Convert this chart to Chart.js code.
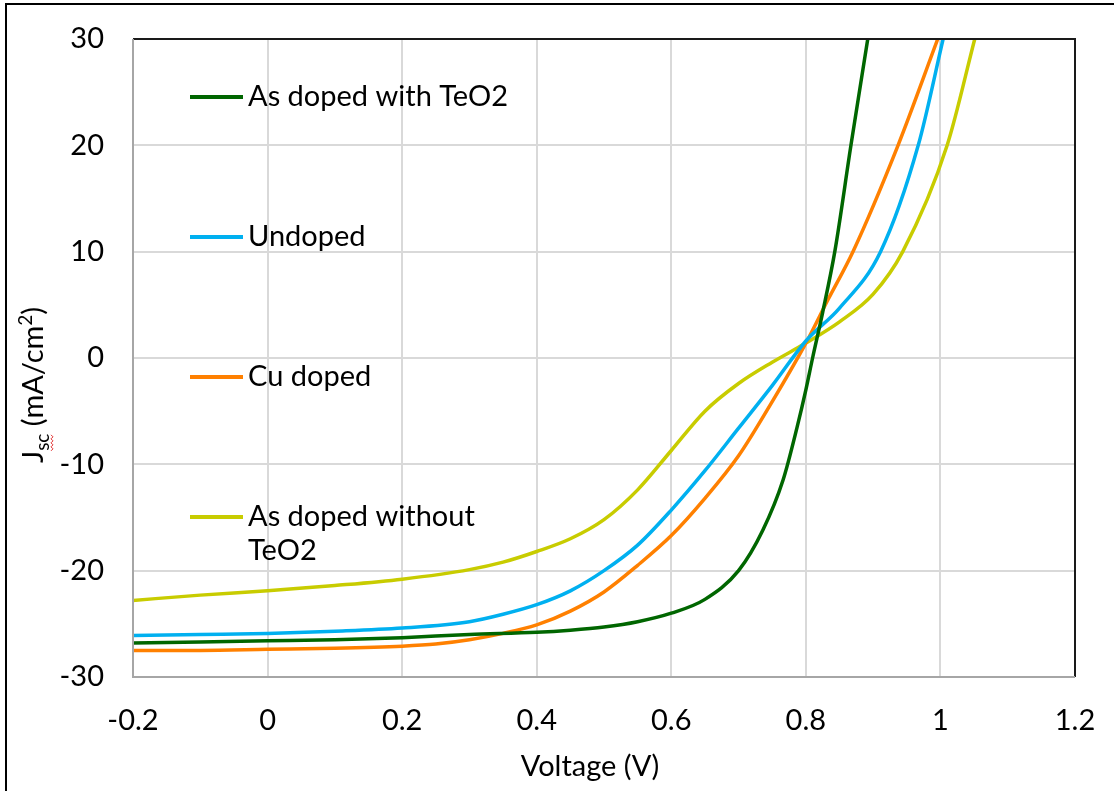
<!DOCTYPE html>
<html>
<head>
<meta charset="utf-8">
<title>J-V curves</title>
<script src="https://cdn.jsdelivr.net/npm/chart.js@4/dist/chart.umd.min.js"></script>
<style>
  html, body { margin: 0; padding: 0; background: #fff; }
  #wrap { width: 1114px; height: 791px; }
</style>
</head>
<body>
<div id="wrap"><canvas id="Grafico" width="1114" height="791"></canvas></div>
<script>
'use strict';
// voltage (V) / current density (mA/cm2) for each sample
const voltWithTeO2 = [-0.2,-0.1,0,0.1,0.2,0.3,0.4,0.45,0.5,0.55,0.6,0.65,0.7,0.736,0.766,0.787,0.8,0.81,0.825,0.843,0.867,0.892];
const jscWithTeO2  = [-26.8,-26.7,-26.6,-26.5,-26.3,-26.0,-25.8,-25.6,-25.3,-24.8,-24.0,-22.7,-20.0,-16.2,-11.5,-6.5,-3.0,0,4.3,10,20,30];

const voltUndoped = [-0.2,-0.1,0,0.1,0.2,0.3,0.35,0.4,0.45,0.5,0.55,0.6,0.65,0.7,0.75,0.8,0.85,0.911,0.967,1.004];
const jscUndoped  = [-26.1,-26.0,-25.9,-25.7,-25.4,-24.8,-24.1,-23.2,-21.9,-20.0,-17.6,-14.3,-10.6,-6.6,-2.6,1.6,4.7,10,20,30];

const voltCu = [-0.2,-0.1,0,0.1,0.2,0.25,0.3,0.35,0.4,0.45,0.5,0.55,0.6,0.65,0.7,0.75,0.8,0.833,0.87,0.937,0.996];
const jscCu  = [-27.5,-27.5,-27.4,-27.3,-27.1,-26.9,-26.5,-25.9,-25.1,-23.8,-22.0,-19.5,-16.7,-13.2,-9.2,-4.1,1.4,5.5,10,20,30];

const voltNoTeO2 = [-0.2,-0.1,0,0.1,0.2,0.3,0.35,0.4,0.45,0.5,0.55,0.6,0.65,0.7,0.75,0.8,0.85,0.9,0.944,1.01,1.051];
const jscNoTeO2  = [-22.8,-22.3,-21.9,-21.4,-20.8,-19.9,-19.2,-18.2,-17.0,-15.2,-12.4,-8.7,-5.0,-2.4,-0.4,1.4,3.4,6.0,10,20,30];

const seriesNames  = ['As doped with TeO2', 'Undoped', 'Cu doped', 'As doped without\nTeO2'];
const seriesColors = ['#006600', '#00b0f0', '#ff8000', '#c8cc00'];

const xTicks = { min: -0.2, max: 1.2, step: 0.2 };
const yTicks = { min: -30, max: 30, step: 10 };

const FONT = 'Lato, Carlito, Calibri, sans-serif';

function pares(xs, ys) {
  return xs.map((v, i) => ({ x: v, y: ys[i] }));
}

const dados = [
  pares(voltWithTeO2, jscWithTeO2),
  pares(voltUndoped, jscUndoped),
  pares(voltCu, jscCu),
  pares(voltNoTeO2, jscNoTeO2)
];

// legend, titles and frame drawn by hand (Excel-like layout)
const extras = {
  id: 'extras',
  afterDraw(chart) {
    const ctx = chart.ctx;
    const a = chart.chartArea;
    ctx.save();

    // plot frame: top/right dark, left/bottom grey
    ctx.lineWidth = 2;
    ctx.strokeStyle = '#1a1a1a';
    ctx.beginPath();
    ctx.moveTo(a.left, a.top); ctx.lineTo(a.right, a.top); ctx.lineTo(a.right, a.bottom);
    ctx.stroke();
    ctx.strokeStyle = '#a6a6a6';
    ctx.beginPath();
    ctx.moveTo(a.left, a.top); ctx.lineTo(a.left, a.bottom); ctx.lineTo(a.right, a.bottom);
    ctx.stroke();

    // outer border
    ctx.strokeStyle = '#000';
    ctx.beginPath();
    ctx.moveTo(6, 791); ctx.lineTo(6, 4); ctx.lineTo(1114, 4);
    ctx.stroke();

    // legend
    const legY = [97, 237, 377, 517];
    ctx.font = '29px ' + FONT;
    ctx.fillStyle = '#000';
    ctx.textBaseline = 'middle';
    ctx.textAlign = 'left';
    seriesNames.forEach((nome, i) => {
      ctx.strokeStyle = seriesColors[i];
      ctx.lineWidth = 4;
      ctx.beginPath();
      ctx.moveTo(190, legY[i]); ctx.lineTo(243, legY[i]);
      ctx.stroke();
      nome.split('\n').forEach((linha, k) => {
        ctx.fillText(linha, 248, legY[i] + k * 34);
      });
    });

    // x title
    ctx.textAlign = 'center';
    ctx.fillText('Voltage (V)', 590, 767);

    // y title: J_sc (mA/cm^2)
    ctx.translate(33, 385);
    ctx.rotate(-Math.PI / 2);
    ctx.textAlign = 'left';
    ctx.textBaseline = 'alphabetic';
    const partes = [
      { t: 'J', f: 29, dy: 0 },
      { t: 'sc', f: 19, dy: 6 },
      { t: ' (mA/cm', f: 29, dy: 0 },
      { t: '2', f: 19, dy: -11 },
      { t: ')', f: 29, dy: 0 }
    ];
    let total = 0;
    partes.forEach(p => { ctx.font = p.f + 'px ' + FONT; p.w = ctx.measureText(p.t).width; total += p.w; });
    let x0 = -total / 2;
    const base = 10;
    partes.forEach((p, i) => {
      ctx.font = p.f + 'px ' + FONT;
      ctx.fillText(p.t, x0, base + p.dy);
      if (i === 1) {
        // spell-check squiggle under the subscript
        ctx.strokeStyle = '#e03030';
        ctx.lineWidth = 1;
        ctx.beginPath();
        for (let s = 0; s <= p.w; s += 2) {
          const yy = base + p.dy + 3 + ((s / 2) % 2 ? 1 : -1);
          if (s === 0) ctx.moveTo(x0 + s, yy); else ctx.lineTo(x0 + s, yy);
        }
        ctx.stroke();
      }
      x0 += p.w;
    });
    ctx.restore();
  }
};

const ctx = document.getElementById('Grafico');
new Chart(ctx, {
  type: 'scatter',
  data: {
    datasets: dados.map((d, i) => ({
      label: seriesNames[i],
      data: d,
      showLine: true,
      borderColor: seriesColors[i],
      backgroundColor: seriesColors[i],
      borderWidth: 3.5,
      pointRadius: 0,
      cubicInterpolationMode: 'monotone',
      fill: false
    }))
  },
  options: {
    responsive: false,
    animation: false,
    devicePixelRatio: 1,
    layout: { autoPadding: false, padding: { left: 0, top: 39, right: 39, bottom: 0 } },
    plugins: { legend: { display: false }, tooltip: { enabled: false } },
    scales: {
      x: {
        type: 'linear',
        min: xTicks.min, max: xTicks.max,
        // fixed axis size; label overflow handled by layout padding
        afterFit(scale) {
          scale.height = 114;
          scale.paddingLeft = 0; scale.paddingRight = 0;
        },
        grid: { color: '#d9d9d9', lineWidth: 2, drawTicks: false },
        border: { display: false },
        ticks: {
          stepSize: xTicks.step,
          padding: 26,
          color: '#000',
          font: { family: FONT, size: 29 },
          maxRotation: 0,
          callback: v => String(Number(v.toFixed(1)))
        }
      },
      y: {
        min: yTicks.min, max: yTicks.max,
        afterFit(scale) {
          scale.width = 133;
          scale.paddingTop = 0; scale.paddingBottom = 0;
        },
        grid: { color: '#d9d9d9', lineWidth: 2, drawTicks: false },
        border: { display: false },
        ticks: {
          stepSize: yTicks.step,
          padding: 29,
          color: '#000',
          font: { family: FONT, size: 29 }
        }
      }
    }
  },
  plugins: [extras]
});
</script>
</body>
</html>
